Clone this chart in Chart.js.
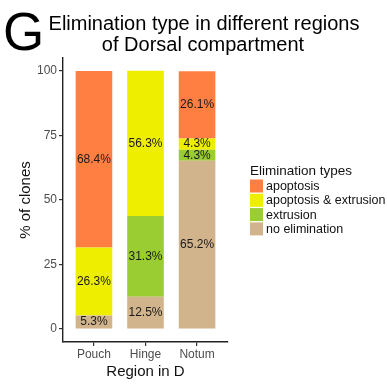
<!DOCTYPE html>
<html>
<head>
<meta charset="utf-8">
<script src="https://cdn.jsdelivr.net/npm/chart.js@4/dist/chart.umd.min.js"></script>
<style>
  html, body { margin: 0; padding: 0; background: #ffffff; }
  #wrap { width: 387px; height: 389px; }
</style>
</head>
<body>
<div id="wrap"><canvas id="c" width="387" height="389"></canvas></div>
<script>
// Regions on the x axis
const regions = ['Pouch', 'Hinge', 'Notum'];

// Percent of clones per elimination type (stacked bottom to top)
const noElimination      = [5.3, 12.5, 65.2];
const extrusion          = [0, 31.3, 4.3];
const apoptosisExtrusion = [26.3, 56.3, 4.3];
const apoptosis          = [68.4, 0, 26.1];

const typeNames  = ['no elimination', 'extrusion', 'apoptosis & extrusion', 'apoptosis'];
const typeValues = [noElimination, extrusion, apoptosisExtrusion, apoptosis];
const typeColors = ['#D2B48C', '#9ACD32', '#EEEE00', '#FF7F42'];

const yTicks = [0, 25, 50, 75, 100];
const xPositions = [1, 2, 3];

const FONT = '"Liberation Sans", Arial, Helvetica, sans-serif';
Chart.defaults.font.family = FONT;

const datasets = typeNames.map((name, i) => ({
  label: name,
  data: typeValues[i].map((v, j) => ({ x: xPositions[j], y: v })),
  backgroundColor: typeColors[i],
  borderWidth: 0,
  barPercentage: 0.71,
  categoryPercentage: 1.0
}));

// Title, panel letter, legend and segment labels
const decorations = {
  id: 'decorations',
  afterDatasetsDraw(chart) {
    const ctx = chart.ctx;
    ctx.save();
    ctx.fillStyle = '#1a1a1a';
    ctx.font = '12px ' + FONT;
    ctx.textAlign = 'center';
    ctx.textBaseline = 'middle';
    chart.data.datasets.forEach((ds, i) => {
      const meta = chart.getDatasetMeta(i);
      meta.data.forEach((bar, j) => {
        const v = ds.data[j].y;
        if (!v) return;
        const cy = (bar.y + bar.base) / 2;
        ctx.fillText(v.toFixed(1) + '%', bar.x, cy);
      });
    });
    ctx.restore();
  },
  afterDraw(chart) {
    const ctx = chart.ctx;
    ctx.save();
    // panel letter
    ctx.fillStyle = '#000';
    ctx.textAlign = 'left';
    ctx.textBaseline = 'alphabetic';
    ctx.font = '53px ' + FONT;
    ctx.fillText('G', 3, 50);
    // chart title
    ctx.font = '20px ' + FONT;
    ctx.textAlign = 'center';
    ctx.fillText('Elimination type in different regions', 204, 29.5);
    ctx.fillText('of Dorsal compartment', 203, 50.5);
    // legend
    ctx.textAlign = 'left';
    ctx.font = '13.5px ' + FONT;
    ctx.fillStyle = '#111';
    ctx.fillText('Elimination types', 250, 175);
    const order = [3, 2, 1, 0];
    ctx.font = '12.5px ' + FONT;
    ctx.textBaseline = 'middle';
    order.forEach((idx, k) => {
      const top = 179.5 + k * 14.3;
      ctx.fillStyle = typeColors[idx];
      ctx.fillRect(250, top, 13, 13);
      ctx.fillStyle = '#111';
      ctx.fillText(typeNames[idx], 266, top + 7);
    });
    ctx.restore();
  }
};

new Chart(document.getElementById('c'), {
  type: 'bar',
  data: { datasets },
  plugins: [decorations],
  options: {
    responsive: false,
    animation: false,
    devicePixelRatio: 1,
    layout: { padding: { top: 58, right: 159, left: 0, bottom: 0 } },
    plugins: {
      legend: { display: false },
      title: { display: false },
      tooltip: { enabled: false }
    },
    scales: {
      x: {
        type: 'linear',
        stacked: true,
        offset: false,
        min: 0.4,
        max: 3.6,
        afterBuildTicks: s => { s.ticks = xPositions.map(v => ({ value: v })); },
        afterFit: s => { s.height = 47; },
        ticks: {
          callback: v => regions[v - 1],
          font: { size: 12 },
          color: '#4D4D4D',
          padding: 1,
          autoSkip: false,
          maxRotation: 0
        },
        grid: { offset: false, drawOnChartArea: false, drawTicks: true, tickLength: 4, color: '#333', lineWidth: 1.2 },
        border: { display: true, color: '#222', width: 1.4 },
        title: { display: true, text: 'Region in D', font: { size: 15 }, color: '#111', padding: { top: 0, bottom: 8 } }
      },
      y: {
        stacked: true,
        min: -5,
        max: 105,
        afterBuildTicks: s => { s.ticks = yTicks.map(v => ({ value: v })); },
        afterFit: s => { s.width = 63; },
        ticks: { font: { size: 12 }, color: '#4D4D4D', padding: 2 },
        grid: { drawOnChartArea: false, drawTicks: true, tickLength: 4, color: '#333', lineWidth: 1.2 },
        border: { display: true, color: '#222', width: 1.4 },
        title: { display: true, text: '% of clones', font: { size: 15 }, color: '#111', padding: { top: 17, bottom: 0 } }
      }
    }
  }
});
</script>
</body>
</html>
